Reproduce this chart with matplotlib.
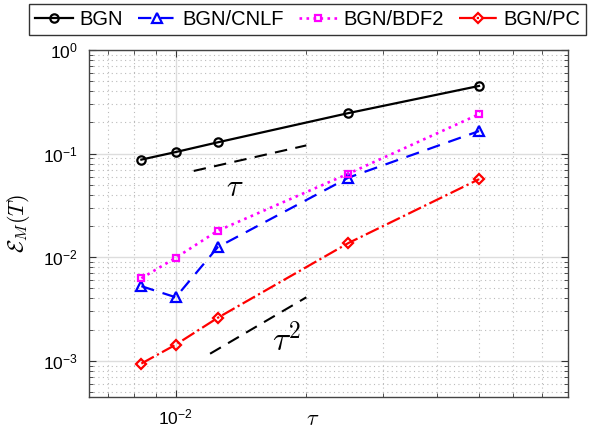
import numpy as np
import matplotlib.pyplot as plt
from matplotlib.ticker import LogLocator, NullFormatter

plt.rcParams['font.family'] = ['Liberation Sans', 'DejaVu Sans']
plt.rcParams['mathtext.fontset'] = 'cm'

# time steps
tau = [1/120, 1/100, 1/80, 1/40, 1/20]

# errors for each scheme
err_bgn = [0.0875, 0.1035, 0.1285, 0.246, 0.45]
err_cnlf = [5.25e-3, 4.1e-3, 0.0125, 0.0586, 0.165]
err_bdf2 = [6.26e-3, 9.86e-3, 0.018, 0.064, 0.24]
err_pc = [9.4e-4, 1.43e-3, 2.6e-3, 0.0137, 0.0566]

# reference slopes
ref1_x = [1.1e-2, 2e-2]
ref1_y = [0.068, 0.12]
ref2_x = [1.2e-2, 2e-2]
ref2_y = [1.17e-3, 4.1e-3]

fig = plt.figure(figsize=(5.91, 4.29), dpi=100)
ax = fig.add_axes([0.151, 0.0753, 0.8106, 0.8081])

ax.loglog(tau, err_bgn, '-o', color='k', lw=1.6, ms=6, mfc='none', mew=1.6, label='BGN')
ax.loglog(tau, err_cnlf, '--^', color='#0000ff', lw=1.6, ms=7, mfc='none', mew=1.6,
          dashes=(6, 4), label='BGN/CNLF')
ax.loglog(tau, err_bdf2, ':s', color='#ff00ff', lw=1.9, ms=4.5, mfc='none', mew=1.6, label='BGN/BDF2')
ax.loglog(tau, err_pc, '-.D', color='#ff0000', lw=1.6, ms=5, mfc='none', mew=1.6, label='BGN/PC')

ax.loglog(ref1_x, ref1_y, '--', color='k', lw=1.5, dashes=(6, 4))
ax.loglog(ref2_x, ref2_y, '--', color='k', lw=1.5, dashes=(6, 4))
ax.text(1.37e-2, 0.0462, r'$\tau$', fontsize=22, ha='center', va='center')
ax.text(1.8e-2, 1.55e-3, r'$\tau^2$', fontsize=24, ha='center', va='center')

ax.set_xlim(6.32e-3, 8.03e-2)
ax.set_ylim(4.5e-4, 1)

ax.xaxis.set_minor_locator(LogLocator(base=10, subs=np.arange(2, 10), numticks=20))
ax.yaxis.set_minor_locator(LogLocator(base=10, subs=np.arange(2, 10), numticks=20))
ax.xaxis.set_minor_formatter(NullFormatter())
ax.yaxis.set_minor_formatter(NullFormatter())

ax.grid(True, which='major', color='#dddddd', lw=1, ls='-')
ax.grid(True, which='minor', color='#bbbbbb', lw=0.8, ls=(0, (1, 3)))
ax.set_axisbelow(True)

ax.tick_params(which='both', direction='in', top=True, right=True, color='#333333')
ax.tick_params(which='major', length=5, labelsize=12.5, pad=8)
ax.tick_params(which='minor', length=3)
for s in ax.spines.values():
    s.set_color('#444444')
    s.set_linewidth(1)

ax.set_xlabel(r'$\tau$', fontsize=16)
ax.xaxis.set_label_coords(0.467, -0.035)
ax.set_ylabel(r'$\mathcal{E}_M(T)$', fontsize=16)
ax.yaxis.set_label_coords(-0.12, 0.5)

leg = fig.legend(loc='upper left', bbox_to_anchor=(29/591, 1 - 4/429), ncol=4,
                 fontsize=14.5, frameon=True, fancybox=False, edgecolor='k',
                 borderaxespad=0, handlelength=1.9, handletextpad=0.3,
                 columnspacing=0.75, borderpad=0.3)
leg.get_frame().set_linewidth(1)

fig.savefig('out.png', dpi=100)
